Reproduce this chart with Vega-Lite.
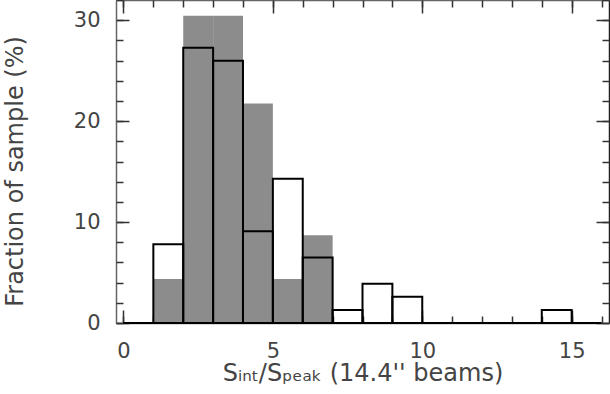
{
  "$schema": "https://vega.github.io/schema/vega-lite/v6.json",
  "width": 493,
  "height": 323,
  "autosize": {"type": "none"},
  "padding": {"left": 116, "top": 0, "right": 1, "bottom": 71},
  "background": "white",
  "config": {
    "view": {"stroke": null},
    "axis": {
      "grid": false,
      "domainColor": "#666666",
      "domainWidth": 1.5,
      "tickColor": "#333333",
      "tickWidth": 1.5,
      "labelFont": "DejaVu Sans",
      "labelFontSize": 21,
      "labelColor": "#444444",
      "titleFont": "DejaVu Sans",
      "titleFontSize": 24,
      "titleFontWeight": "normal",
      "titleColor": "#444444"
    }
  },
  "datasets": {
    "gray": [
      {"lo": 1, "hi": 2, "pct": 4.35},
      {"lo": 2, "hi": 3, "pct": 30.43},
      {"lo": 3, "hi": 4, "pct": 30.43},
      {"lo": 4, "hi": 5, "pct": 21.74},
      {"lo": 5, "hi": 6, "pct": 4.35},
      {"lo": 6, "hi": 7, "pct": 8.70}
    ],
    "black": [
      {"lo": 0, "hi": 1, "pct": 0},
      {"lo": 1, "hi": 2, "pct": 7.79},
      {"lo": 2, "hi": 3, "pct": 27.27},
      {"lo": 3, "hi": 4, "pct": 25.97},
      {"lo": 4, "hi": 5, "pct": 9.09},
      {"lo": 5, "hi": 6, "pct": 14.29},
      {"lo": 6, "hi": 7, "pct": 6.49},
      {"lo": 7, "hi": 8, "pct": 1.30},
      {"lo": 8, "hi": 9, "pct": 3.90},
      {"lo": 9, "hi": 10, "pct": 2.60},
      {"lo": 10, "hi": 11, "pct": 0},
      {"lo": 11, "hi": 12, "pct": 0},
      {"lo": 12, "hi": 13, "pct": 0},
      {"lo": 13, "hi": 14, "pct": 0},
      {"lo": 14, "hi": 15, "pct": 1.30},
      {"lo": 15, "hi": 16, "pct": 0}
    ]
  },
  "layer": [
    {
      "data": {"name": "gray"},
      "mark": {"type": "rect", "fill": "#8c8c8c", "stroke": null},
      "encoding": {
        "x": {"field": "lo", "type": "quantitative",
              "scale": {"domain": [-0.25, 16.25], "nice": false, "zero": false},
              "axis": {"orient": "bottom", "values": [0, 5, 10, 15], "tickSize": -13, "labelPadding": 30, "domain": true,
                       "title": "Sᵢₙₜ/Sₚₑₐₖ (14.4'' beams)", "titlePadding": 0}},
        "x2": {"field": "hi"},
        "y": {"field": "pct", "type": "quantitative",
              "scale": {"domain": [0, 32], "nice": false},
              "axis": {"orient": "left", "values": [0, 10, 20, 30], "tickSize": -13, "labelPadding": 29, "domain": true,
                       "title": "Fraction of sample (%)", "titlePadding": 46, "titleY": 171}},
        "y2": {"datum": 0}
      }
    },
    {
      "data": {"name": "black"},
      "mark": {"type": "rect", "fillOpacity": 0, "stroke": "black", "strokeWidth": 2},
      "encoding": {
        "x": {"field": "lo", "type": "quantitative",
              "axis": {"orient": "bottom", "values": [0,1,2,3,4,5,6,7,8,9,10,11,12,13,14,15,16], "tickSize": -7, "labels": false, "domain": false, "title": null}},
        "x2": {"field": "hi"},
        "y": {"field": "pct", "type": "quantitative",
              "axis": {"orient": "left", "values": [0,2,4,6,8,10,12,14,16,18,20,22,24,26,28,30,32], "tickSize": -7, "labels": false, "domain": false, "title": null}},
        "y2": {"datum": 0}
      }
    },
    {
      "data": {"name": "gray"},
      "mark": {"type": "rect", "opacity": 0},
      "encoding": {
        "x": {"field": "lo", "type": "quantitative",
              "axis": {"orient": "top", "values": [0, 5, 10, 15], "tickSize": -13, "labels": false, "domain": true, "title": null}},
        "x2": {"field": "hi"},
        "y": {"field": "pct", "type": "quantitative",
              "axis": {"orient": "right", "values": [0, 10, 20, 30], "tickSize": -13, "labels": false, "domain": true, "domainColor": "#222222", "title": null}},
        "y2": {"datum": 0}
      }
    },
    {
      "data": {"name": "gray"},
      "mark": {"type": "rect", "opacity": 0},
      "encoding": {
        "x": {"field": "lo", "type": "quantitative",
              "axis": {"orient": "top", "values": [0,1,2,3,4,5,6,7,8,9,10,11,12,13,14,15,16], "tickSize": -7, "labels": false, "domain": false, "title": null}},
        "x2": {"field": "hi"},
        "y": {"field": "pct", "type": "quantitative",
              "axis": {"orient": "right", "values": [0,2,4,6,8,10,12,14,16,18,20,22,24,26,28,30,32], "tickSize": -7, "labels": false, "domain": false, "title": null}},
        "y2": {"datum": 0}
      }
    }
  ],
  "resolve": {"axis": {"x": "independent", "y": "independent"}}
}
